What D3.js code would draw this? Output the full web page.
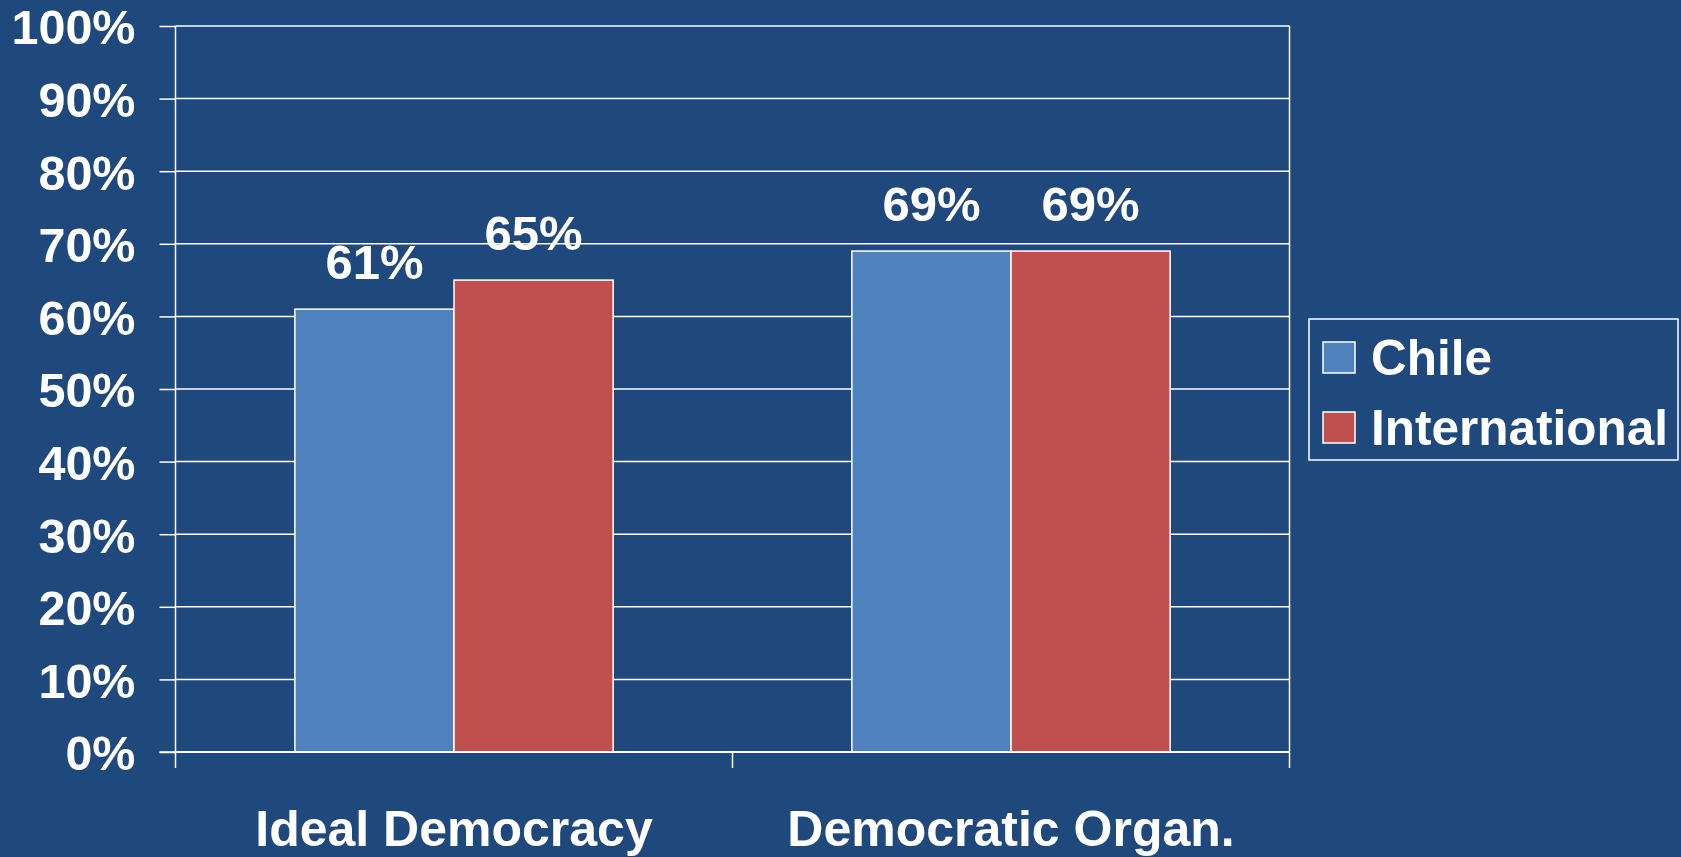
<!DOCTYPE html>
<html>
<head>
<meta charset="utf-8">
<script src="https://cdn.jsdelivr.net/npm/d3@7"></script>
<style>
  html, body { margin: 0; padding: 0; background: #1F497D; }
  svg { display: block; }
  text { font-family: "Liberation Sans", Arial, sans-serif; font-weight: bold; fill: #fff; }
</style>
</head>
<body>
<svg id="chart" width="1681" height="857"></svg>
<script>
// Chart data
const categories = ["Ideal Democracy", "Democratic Organ."];
const seriesNames = ["Chile", "International"];
const chileValues = [0.61, 0.69];
const internationalValues = [0.65, 0.69];
const yTicks = [0, 0.1, 0.2, 0.3, 0.4, 0.5, 0.6, 0.7, 0.8, 0.9, 1.0];
const seriesColors = ["#4F81BD", "#C0504D"];

const series = [chileValues, internationalValues];

const svg = d3.select("#chart");
const W = 1681, H = 857;
const plot = { left: 175.5, right: 1289.5, top: 26, bottom: 752 };

svg.append("rect").attr("width", W).attr("height", H).attr("fill", "#1F497D");

const x = d3.scaleBand().domain(categories).range([plot.left, plot.right]).paddingInner(0).paddingOuter(0);
// bars fill the middle of each band with a 150% gap width
const xInner = d3.scaleBand().domain(seriesNames).range([0, x.bandwidth()]).paddingOuter(0.75).paddingInner(0);
const y = d3.scaleLinear().domain([0, 1]).range([plot.bottom, plot.top]);

const fmt = d3.format(".0%");

// Gridlines
svg.append("g")
  .selectAll("line")
  .data(yTicks.filter(d => d > 0))
  .join("line")
  .attr("x1", plot.left).attr("x2", plot.right)
  .attr("y1", d => y(d)).attr("y2", d => y(d))
  .attr("stroke", "#ffffff").attr("stroke-width", 1.5);

// Plot frame (left, right)
svg.append("line").attr("x1", plot.left).attr("x2", plot.left)
  .attr("y1", plot.top).attr("y2", plot.bottom + 16)
  .attr("stroke", "#fff").attr("stroke-width", 1.5);
svg.append("line").attr("x1", plot.right).attr("x2", plot.right)
  .attr("y1", plot.top).attr("y2", plot.bottom + 16)
  .attr("stroke", "#fff").attr("stroke-width", 1.5);

// Y axis
const yAxis = d3.axisLeft(y).tickValues(yTicks).tickFormat(fmt).tickSize(16).tickPadding(24);
const yg = svg.append("g").attr("transform", `translate(${plot.left},0)`).call(yAxis);
yg.select(".domain").remove();
yg.selectAll(".tick line").attr("stroke", "#fff").attr("stroke-width", 1.5);
yg.selectAll(".tick text")
  .attr("fill", "#fff")
  .attr("dy", "0.37em")
  .style("font-size", "48.5px")
  .style("font-family", "'Liberation Sans', Arial, sans-serif")
  .style("font-weight", "bold");

// Bars
const groups = svg.append("g").selectAll("g")
  .data(categories)
  .join("g")
  .attr("transform", d => `translate(${x(d)},0)`);

groups.selectAll("rect")
  .data((c, i) => seriesNames.map((s, j) => ({ s, v: series[j][i], j })))
  .join("rect")
  .attr("x", d => xInner(d.s))
  .attr("width", xInner.bandwidth())
  .attr("y", d => y(d.v))
  .attr("height", d => y(0) - y(d.v))
  .attr("fill", d => seriesColors[d.j])
  .attr("stroke", "#fff")
  .attr("stroke-width", 1.5);

// Value labels
groups.selectAll("text.val")
  .data((c, i) => seriesNames.map((s, j) => ({ s, v: series[j][i] })))
  .join("text")
  .attr("class", "val")
  .attr("x", d => xInner(d.s) + xInner.bandwidth() / 2)
  .attr("y", d => y(d.v) - 30)
  .attr("text-anchor", "middle")
  .style("font-size", "49px")
  .text(d => fmt(d.v));

// X axis
const xAxis = d3.axisBottom(x).tickSize(0).tickFormat(d => d);
const xg = svg.append("g").attr("transform", `translate(0,${plot.bottom})`).call(xAxis);
xg.select(".domain").remove();
xg.selectAll(".tick text")
  .attr("fill", "#fff")
  .attr("y", 94)
  .attr("dy", 0)
  .style("font-size", "50px")
  .style("font-family", "'Liberation Sans', Arial, sans-serif")
  .style("font-weight", "bold");

// Baseline and category separator ticks
svg.append("line").attr("x1", plot.left).attr("x2", plot.right)
  .attr("y1", plot.bottom).attr("y2", plot.bottom)
  .attr("stroke", "#fff").attr("stroke-width", 2);
svg.append("line").attr("x1", plot.left - 16).attr("x2", plot.left)
  .attr("y1", plot.bottom).attr("y2", plot.bottom)
  .attr("stroke", "#fff").attr("stroke-width", 1.5);
svg.append("g").selectAll("line")
  .data(categories.slice(1))
  .join("line")
  .attr("x1", d => x(d)).attr("x2", d => x(d))
  .attr("y1", plot.bottom).attr("y2", plot.bottom + 16)
  .attr("stroke", "#fff").attr("stroke-width", 1.5);

// Legend
const legend = svg.append("g");
legend.append("rect")
  .attr("x", 1309).attr("y", 319).attr("width", 369).attr("height", 141)
  .attr("fill", "none").attr("stroke", "#fff").attr("stroke-width", 1.5);
const items = legend.selectAll("g.item")
  .data(seriesNames)
  .join("g")
  .attr("class", "item")
  .attr("transform", (d, i) => `translate(1323,${342 + i * 70})`);
items.append("rect")
  .attr("width", 32).attr("height", 31)
  .attr("fill", (d, i) => seriesColors[i])
  .attr("stroke", "#fff").attr("stroke-width", 1.5);
items.append("text")
  .attr("x", 48).attr("y", 33)
  .style("font-size", "49.5px")
  .text(d => d);
</script>
</body>
</html>
